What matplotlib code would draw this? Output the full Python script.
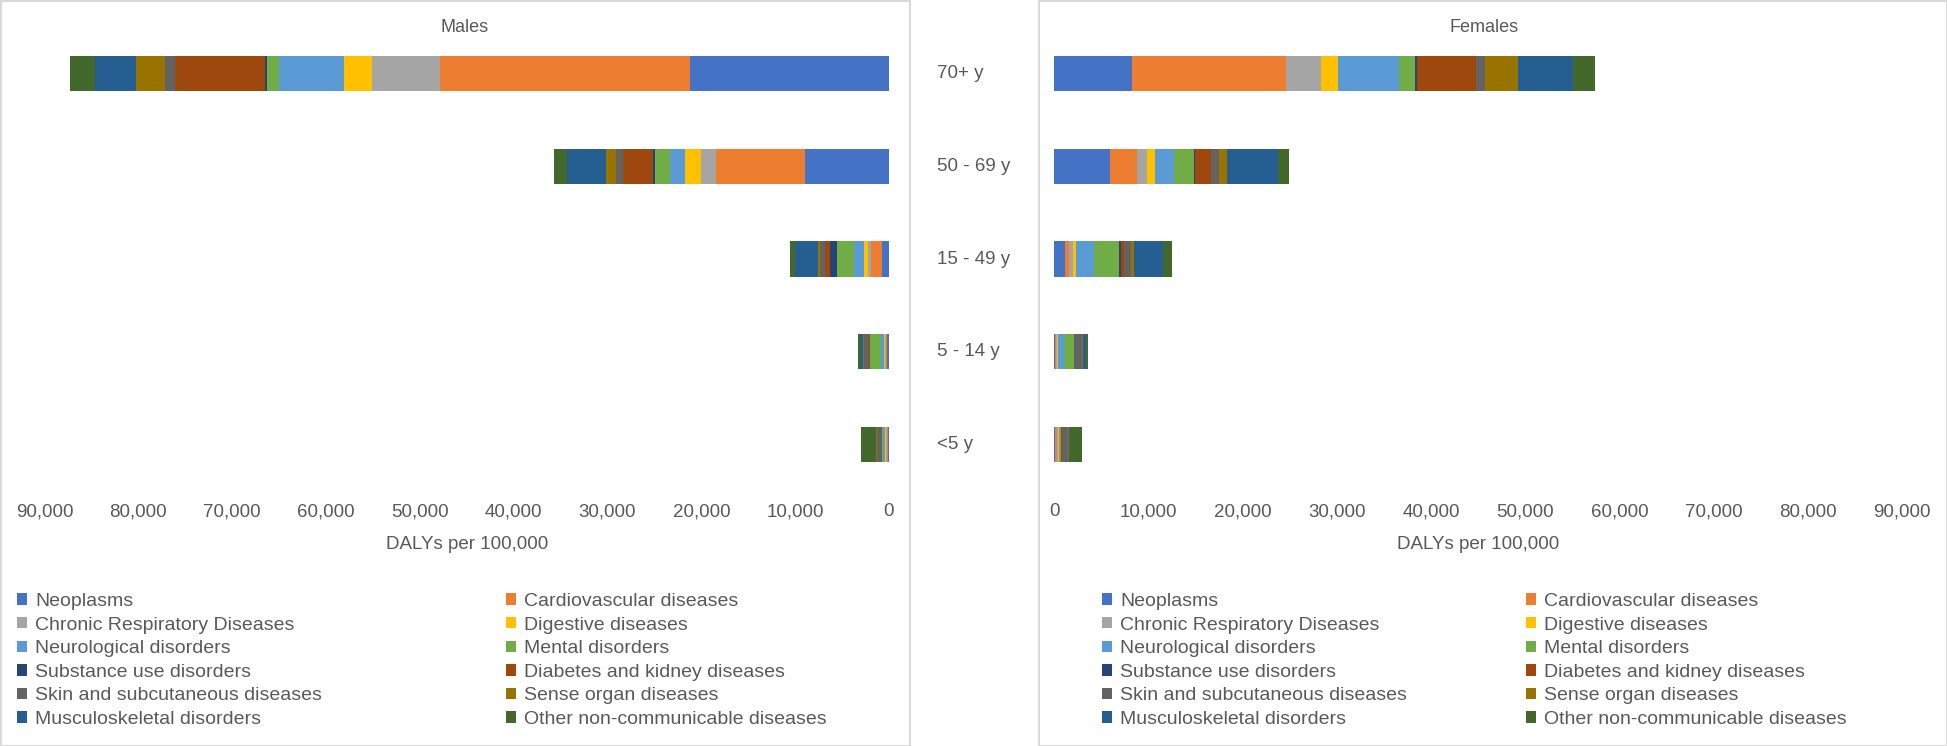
import matplotlib
matplotlib.use("Agg")
import matplotlib.pyplot as plt
from matplotlib.patches import Rectangle, Patch
from matplotlib.ticker import FuncFormatter
from matplotlib.transforms import blended_transform_factory

plt.rcParams['font.family'] = ['Liberation Sans', 'DejaVu Sans']

# age groups, bottom to top
ages = ["<5 y", "5 - 14 y", "15 - 49 y", "50 - 69 y", "70+ y"]

causes = ["Neoplasms", "Cardiovascular diseases", "Chronic Respiratory Diseases",
          "Digestive diseases", "Neurological disorders", "Mental disorders",
          "Substance use disorders", "Diabetes and kidney diseases",
          "Skin and subcutaneous diseases", "Sense organ diseases",
          "Musculoskeletal disorders", "Other non-communicable diseases"]

colors = ["#4472C4", "#ED7D31", "#A5A5A5", "#FFC000", "#5B9BD5", "#70AD47",
          "#264478", "#9E480E", "#636363", "#997300", "#255E91", "#43682B"]

# DALYs per 100,000, one list per age group, values in cause order
males_lt5 = [100, 150, 100, 100, 150, 100, 20, 50, 500, 100, 50, 1550]
males_5_14 = [200, 150, 100, 50, 400, 1100, 50, 100, 500, 150, 250, 300]
males_15_49 = [780, 1130, 320, 390, 1130, 1840, 750, 500, 500, 210, 2450, 500]
males_50_69 = [8900, 9500, 1600, 1700, 1600, 1600, 300, 3200, 650, 1100, 4200, 1400]
males_70 = [21200, 26700, 7200, 3000, 6900, 1300, 200, 9600, 1100, 3100, 4300, 2700]

females_lt5 = [140, 140, 120, 120, 150, 80, 20, 50, 640, 140, 50, 1300]
females_5_14 = [140, 100, 100, 70, 600, 1060, 30, 50, 780, 100, 400, 200]
females_15_49 = [1130, 500, 390, 280, 1950, 2650, 210, 350, 710, 280, 3150, 920]
females_50_69 = [5900, 2900, 1100, 800, 2000, 2200, 100, 1700, 800, 900, 5400, 1100]
females_70 = [8260, 16400, 3700, 1800, 6500, 1700, 150, 6300, 900, 3500, 5900, 2300]

males = [males_lt5, males_5_14, males_15_49, males_50_69, males_70]
females = [females_lt5, females_5_14, females_15_49, females_50_69, females_70]

W, H = 1947, 746
txt = "#595959"

fig = plt.figure(figsize=(W / 100, H / 100), dpi=100)

bottom = 1 - 491 / H
height = (491 - 27) / H
axL = fig.add_axes([44.5 / W, bottom, (889 - 44.5) / W, height])
axR = fig.add_axes([1054 / W, bottom, (1902 - 1054) / W, height])


def draw_panel(ax, data):
    ypos = list(range(len(ages)))
    for i in range(len(causes)):
        lefts = [sum(row[:i]) for row in data]
        vals = [row[i] for row in data]
        ax.barh(ypos, vals, left=lefts, height=0.38, color=colors[i], linewidth=0)
    ax.set_ylim(-0.5, len(ages) - 0.5)
    ax.set_yticks([])
    for s in ax.spines.values():
        s.set_visible(False)
    ax.set_xticks(range(0, 90001, 10000))
    ax.xaxis.set_major_formatter(FuncFormatter(lambda v, p: f"{int(v):,}"))
    ax.tick_params(axis="x", length=0, pad=9, labelsize=13.5, labelcolor=txt)
    ax.set_xlabel("DALYs per 100,000", fontsize=13.5, color=txt, labelpad=11)


draw_panel(axL, males)
axL.set_xlim(90000, 0)
draw_panel(axR, females)
axR.set_xlim(0, 90000)

fig.text(465 / W, 1 - 28 / H, "Males", ha="center", va="center", fontsize=13, color=txt)
fig.text(1484 / W, 1 - 28 / H, "Females", ha="center", va="center", fontsize=13, color=txt)

# age group labels in the middle gap
trans = blended_transform_factory(fig.transFigure, axR.transData)
for i, a in enumerate(ages):
    axR.text(937 / W, i, a, transform=trans, ha="left", va="center", fontsize=13.5, color=txt)

# panel frames
fig.add_artist(Rectangle((0.5 / W, 0.5 / H), 909 / W, 1 - 1 / H, transform=fig.transFigure,
                         fill=False, edgecolor="#D9D9D9", lw=1.5))
fig.add_artist(Rectangle((1039 / W, 0.5 / H), (W - 1039.5) / W, 1 - 1 / H, transform=fig.transFigure,
                         fill=False, edgecolor="#D9D9D9", lw=1.5))

# legends: two columns per panel
handles = [Patch(facecolor=c, edgecolor="none") for c in colors]
col_x = [(17, 506), (1102, 1526)]
for x1, x2 in col_x:
    for x, idx in ((x1, range(0, 12, 2)), (x2, range(1, 12, 2))):
        fig.legend([handles[k] for k in idx], [causes[k] for k in idx],
                   loc="upper left", bbox_to_anchor=(x / W, 1 - 593 / H),
                   frameon=False, fontsize=14, labelcolor=txt,
                   handlelength=0.52, handleheight=0.52, handletextpad=0.4,
                   labelspacing=0.34, borderpad=0, borderaxespad=0)

fig.savefig("out.png", dpi=100, facecolor="white")
